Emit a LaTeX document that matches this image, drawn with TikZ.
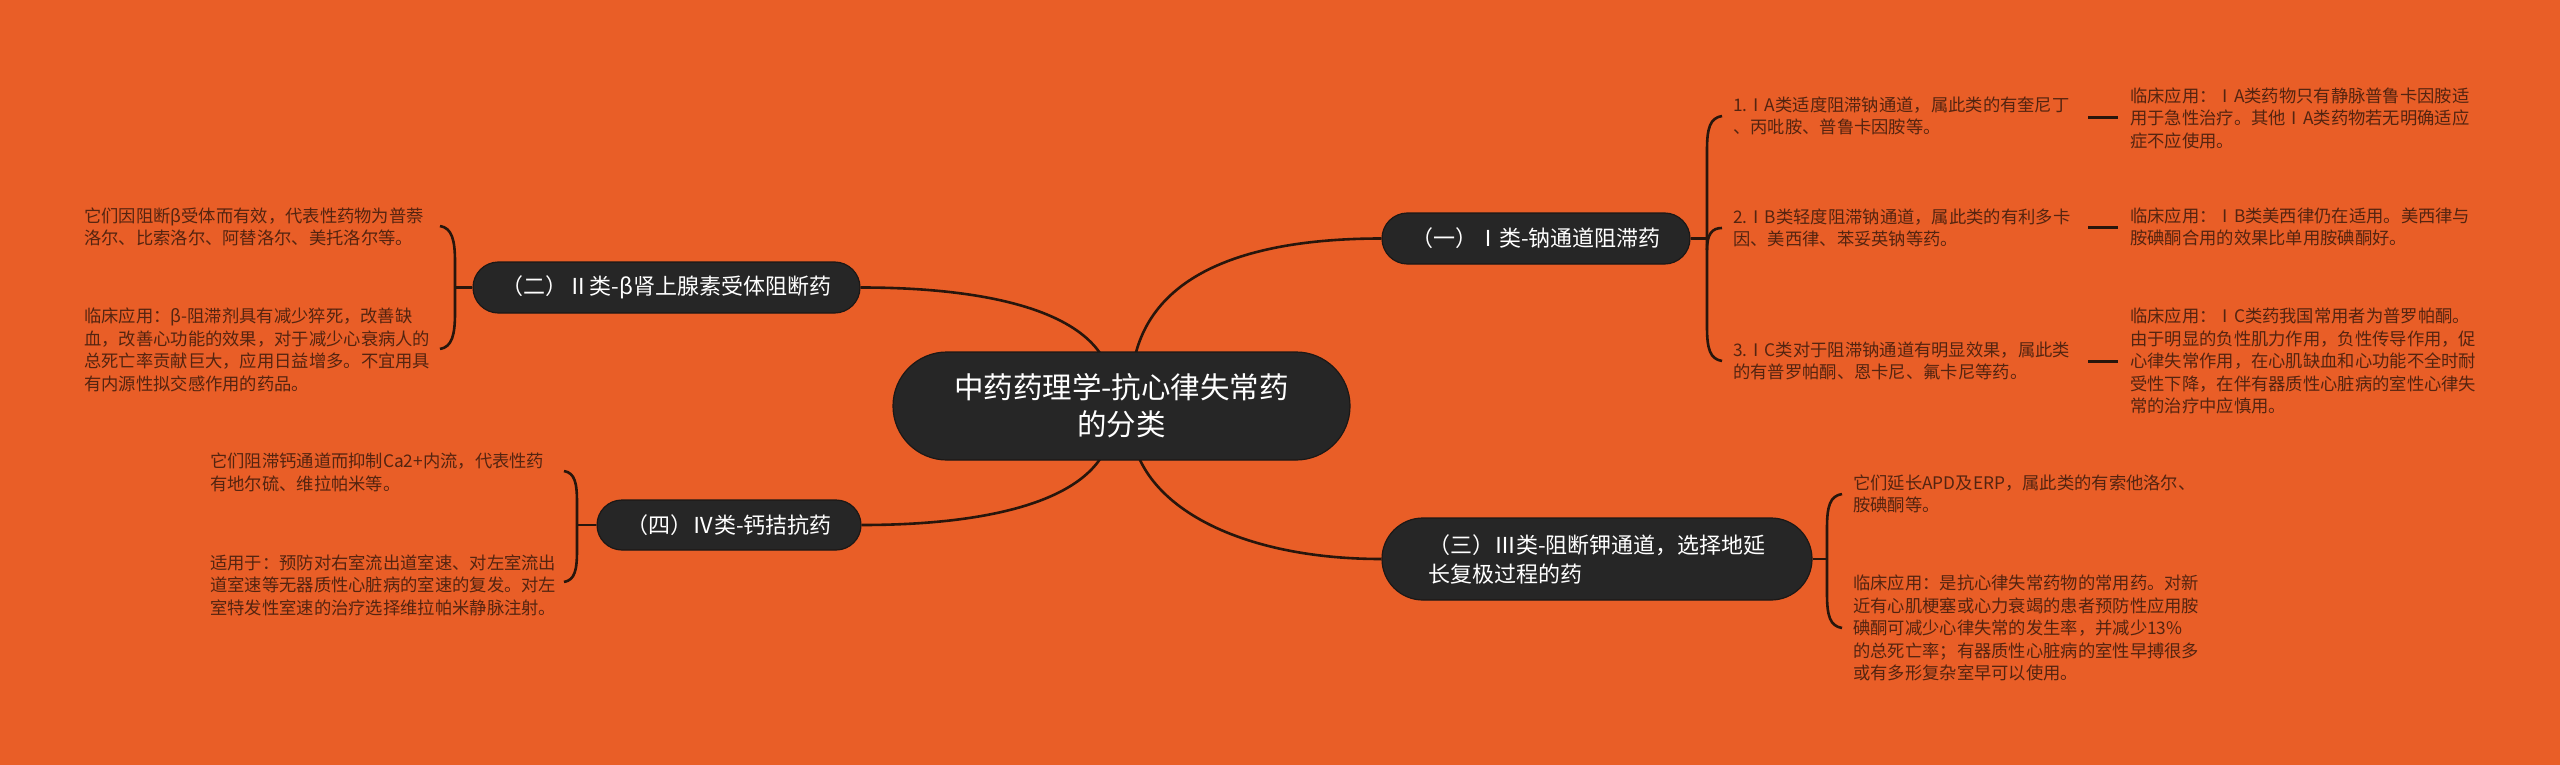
\documentclass[tikz,border=0pt]{standalone}
\usepackage{fontspec}
\newfontfamily\cjk{Noto Sans CJK SC}
\usetikzlibrary{calc}
\definecolor{bgc}{RGB}{233,94,39}
\definecolor{nodefill}{RGB}{38,38,38}
\definecolor{nodeline}{RGB}{28,24,22}
\definecolor{linec}{RGB}{40,22,12}
\definecolor{txt}{RGB}{84,36,16}
\tikzset{
  topic/.style={draw=nodeline, line width=1.2pt, fill=nodefill, text=white,
    font=\cjk\fontsize{22}{29}\selectfont, inner sep=0pt, align=left},
  roottopic/.style={draw=nodeline, line width=1.2pt, fill=nodefill, text=white,
    font=\cjk\fontsize{29.5}{37}\selectfont, inner sep=0pt, align=center},
  leaf/.style={text=txt, font=\cjk\fontsize{17.3}{22.5}\selectfont, align=left,
    inner sep=0pt, anchor=west},
  conn/.style={draw=linec, line width=2.6pt},
  dashline/.style={draw=linec, line width=3pt},
}
\begin{document}
\begin{tikzpicture}[x=1pt,y=-1pt]
\useasboundingbox (0,0) rectangle (2560,765);
\fill[bgc] (0,0) rectangle (2560,765);

% branch topics
\node[topic, minimum width=308pt, minimum height=51pt, rounded corners=25.5pt] (b1) at (1536,238.5) {（一）Ⅰ类-钠通道阻滞药};
\node[topic, minimum width=387pt, minimum height=51pt, rounded corners=25.5pt] (b2) at (666.5,287.5) {（二）Ⅱ类-β肾上腺素受体阻断药};
\node[topic, minimum width=430pt, minimum height=82pt, rounded corners=41pt] (b3) at (1597,559) {（三）Ⅲ类-阻断钾通道，选择地延\\长复极过程的药};
\node[topic, minimum width=264pt, minimum height=50pt, rounded corners=25pt] (b4) at (729,525) {（四）Ⅳ类-钙拮抗药};

% root connectors (drawn before root so it covers them)
\coordinate (rTL) at (1112,392);
\coordinate (rTR) at (1131,392);
\coordinate (rBL) at (1112,420);
\coordinate (rBR) at (1131,420);
\draw[conn] (b2.east) .. controls +(150,0) and (1112,320) .. (rTL);
\draw[conn] (rTR) .. controls (1131,282) and +(-150,0) .. (b1.west);
\draw[conn] (rBL) .. controls (1112,492) and +(150,0) .. (b4.east);
\draw[conn] (rBR) .. controls (1131,500) and +(-150,0) .. (b3.west);

% root
\node[roottopic, minimum width=457pt, minimum height=108pt, rounded corners=54pt] (root) at (1121.5,406) {中药药理学-抗心律失常药\\的分类};

% leaves of (一)
\node[leaf] (t1) at (1733,116) {1.ⅠA类适度阻滞钠通道，属此类的有奎尼丁\\、丙吡胺、普鲁卡因胺等。};
\node[leaf] (t2) at (1733,228) {2.ⅠB类轻度阻滞钠通道，属此类的有利多卡\\因、美西律、苯妥英钠等药。};
\node[leaf] (t3) at (1733,361) {3.ⅠC类对于阻滞钠通道有明显效果，属此类\\的有普罗帕酮、恩卡尼、氟卡尼等药。};
\node[leaf] (c1) at (2130,118) {临床应用：ⅠA类药物只有静脉普鲁卡因胺适\\用于急性治疗。其他ⅠA类药物若无明确适应\\症不应使用。};
\node[leaf] (c2) at (2130,227) {临床应用：ⅠB类美西律仍在适用。美西律与\\胺碘酮合用的效果比单用胺碘酮好。};
\node[leaf] (c3) at (2130,361) {临床应用：ⅠC类药我国常用者为普罗帕酮。\\由于明显的负性肌力作用，负性传导作用，促\\心律失常作用，在心肌缺血和心功能不全时耐\\受性下降，在伴有器质性心脏病的室性心律失\\常的治疗中应慎用。};

% leaves of (三)
\node[leaf] (s1) at (1853,494) {它们延长APD及ERP，属此类的有索他洛尔、\\胺碘酮等。};
\node[leaf] (s2) at (1853,628) {临床应用：是抗心律失常药物的常用药。对新\\近有心肌梗塞或心力衰竭的患者预防性应用胺\\碘酮可减少心律失常的发生率，并减少13\%\\的总死亡率；有器质性心脏病的室性早搏很多\\或有多形复杂室早可以使用。};

% leaves of (二)
\node[leaf] (l1) at (84,227) {它们因阻断β受体而有效，代表性药物为普萘\\洛尔、比索洛尔、阿替洛尔、美托洛尔等。};
\node[leaf] (l2) at (84,350) {临床应用：β-阻滞剂具有减少猝死，改善缺\\血，改善心功能的效果，对于减少心衰病人的\\总死亡率贡献巨大，应用日益增多。不宜用具\\有内源性拟交感作用的药品。};

% leaves of (四)
\node[leaf] (m1) at (210,472.5) {它们阻滞钙通道而抑制Ca2+内流，代表性药\\有地尔硫、维拉帕米等。};
\node[leaf] (m2) at (210,585) {适用于：预防对右室流出道室速、对左室流出\\道室速等无器质性心脏病的室速的复发。对左\\室特发性室速的治疗选择维拉帕米静脉注射。};

% bracket (一)
\draw[conn] (b1.east) -- (1707,238.5);
\draw[conn] ([xshift=-11pt]t1.west) .. controls (1710,118) and (1707,128) .. (1707,150) -- (1707,327) .. controls (1707,349) and (1710,359) .. ([xshift=-11pt]t3.west);
\draw[conn] (1707,250) .. controls (1707,234) and (1712,228) .. ([xshift=-11pt]t2.west);

% dashes between numbered items and clinical notes
\draw[dashline] ([xshift=-42pt]c1.west) -- ([xshift=-12pt]c1.west);
\draw[dashline] ([xshift=-42pt]c2.west) -- ([xshift=-12pt]c2.west);
\draw[dashline] ([xshift=-42pt]c3.west) -- ([xshift=-12pt]c3.west);

% bracket (三)
\draw[conn] (b3.east) -- (1827,559);
\draw[conn] ([xshift=-11pt]s1.west) .. controls (1830,496) and (1827,506) .. (1827,528) -- (1827,594) .. controls (1827,616) and (1830,626) .. ([xshift=-11pt]s2.west);

% bracket (二)
\coordinate (l1e) at (440,226);
\coordinate (l2e) at (440,349);
\draw[conn] (b2.west) -- (455,287.5);
\draw[conn] (l1e) .. controls (452,228) and (455,240) .. (455,262) -- (455,313) .. controls (455,335) and (452,347) .. (l2e);

% bracket (四)
\coordinate (m1e) at (564,471);
\coordinate (m2e) at (564,582);
\draw[conn] (b4.west) -- (577,525);
\draw[conn] (m1e) .. controls (575,473) and (577,483) .. (577,503) -- (577,550) .. controls (577,570) and (575,580) .. (m2e);
\end{tikzpicture}
\end{document}
